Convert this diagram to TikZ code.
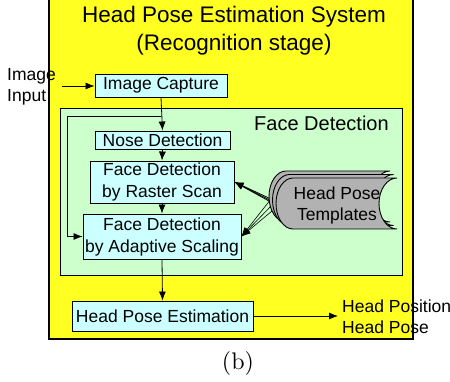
\documentclass[tikz,border=0pt]{standalone}
\usepackage{fontspec}
\setsansfont{Liberation Sans}
\usetikzlibrary{arrows.meta}
\tikzset{>={Latex[length=9pt,width=7pt]}}
\definecolor{sysyellow}{HTML}{FFFF22}
\definecolor{facegreen}{HTML}{CCFFCC}
\definecolor{stepcyan}{HTML}{CCFFFF}
\definecolor{templgray}{HTML}{B2B2B2}

\begin{document}
\begin{tikzpicture}[x=1pt, y=1pt,
    box/.style={draw, fill=stepcyan, line width=0.9pt, inner sep=0pt, align=center,
      font=\sffamily\fontsize{17.5}{22}\selectfont},
    lbl/.style={inner sep=0pt, align=left, font=\sffamily\fontsize{17.5}{21}\selectfont}]
    \useasboundingbox (0, 0) rectangle (450, -382);
    \fill[white] (0, 0) rectangle (450, -382);
    \draw[fill=sysyellow, line width=1.2pt] (49, 2) rectangle (413, -339);
    \node[inner sep=0pt, align=center, font=\sffamily\fontsize{22.5}{28}\selectfont] (title) at (234, -31) {Head Pose Estimation System\\(Recognition stage)};
    \draw[fill=facegreen, line width=0.9pt] (60, -108) rectangle (402, -275);
    \node[lbl, font=\sffamily\fontsize{20}{24}\selectfont] (facelbl) at (321.5, -123) {Face Detection};
    \node[lbl, anchor=west] (input) at (7, -87) {Image\\Input};
    \node[lbl, anchor=west] (output) at (342, -316.5) {Head Position\\Head Pose};
    \node[inner sep=0pt] (caption) at (238, -363) {\scalebox{2.4}{(b)}};
    \node[box, minimum width=132, minimum height=23] (capture) at (161, -85.5) {Image Capture};
    \node[box, minimum width=135, minimum height=18] (nose) at (162.5, -140) {Nose Detection};
    \node[box, minimum width=144, minimum height=42] (raster) at (162, -182) {Face Detection\\by Raster Scan};
    \node[box, minimum width=158, minimum height=45] (adaptive) at (162, -236.5) {Face Detection\\by Adaptive Scaling};
    \node[box, minimum width=181, minimum height=30] (estimation) at (162.5, -316) {Head Pose Estimation};
    \coordinate (inputend) at (62, -86);
    \coordinate (outputend) at (338, -316);
    \coordinate (split) at (161, -116);
    \draw[->, thick] (inputend) -- (capture.west |- inputend);
    \draw[->, thick] (capture.south) -- (nose.north);
    \draw[->, thick] (split) -- (67, -116) |- (adaptive.west);
    \draw[->, thick] (nose.south) -- (raster.north);
    \draw[->, thick] (raster.south) -- (adaptive.north);
    \draw[->, thick] (adaptive.south) -- (estimation.north);
    \draw[->, thick] (estimation.east) -- (outputend);
    \foreach \s/\n in {0/tplA, 3.5/tplB, 7/tplC} {
        \coordinate (\n) at (271 + \s, -199 - \s);
        \draw[->, line width=0.8pt] (\n) -- (raster.east);
        \draw[->, line width=0.6pt] (\n) -- (adaptive.east);
    }
    \foreach \s in {0, 3.5, 7} {
        \draw[fill=templgray, line width=0.9pt, shift={(\s, -\s)}] (286, -171) -- (390, -171)
            arc[start angle=90, end angle=270, x radius=18pt, y radius=25.5pt] -- (286, -222)
            arc[start angle=270, end angle=90, x radius=17pt, y radius=25.5pt] -- cycle;
    }
    \node[inner sep=0pt, align=center, font=\sffamily\fontsize{17.5}{21}\selectfont] (templates) at (337, -205.5) {Head Pose\\Templates};
\end{tikzpicture}
\end{document}
